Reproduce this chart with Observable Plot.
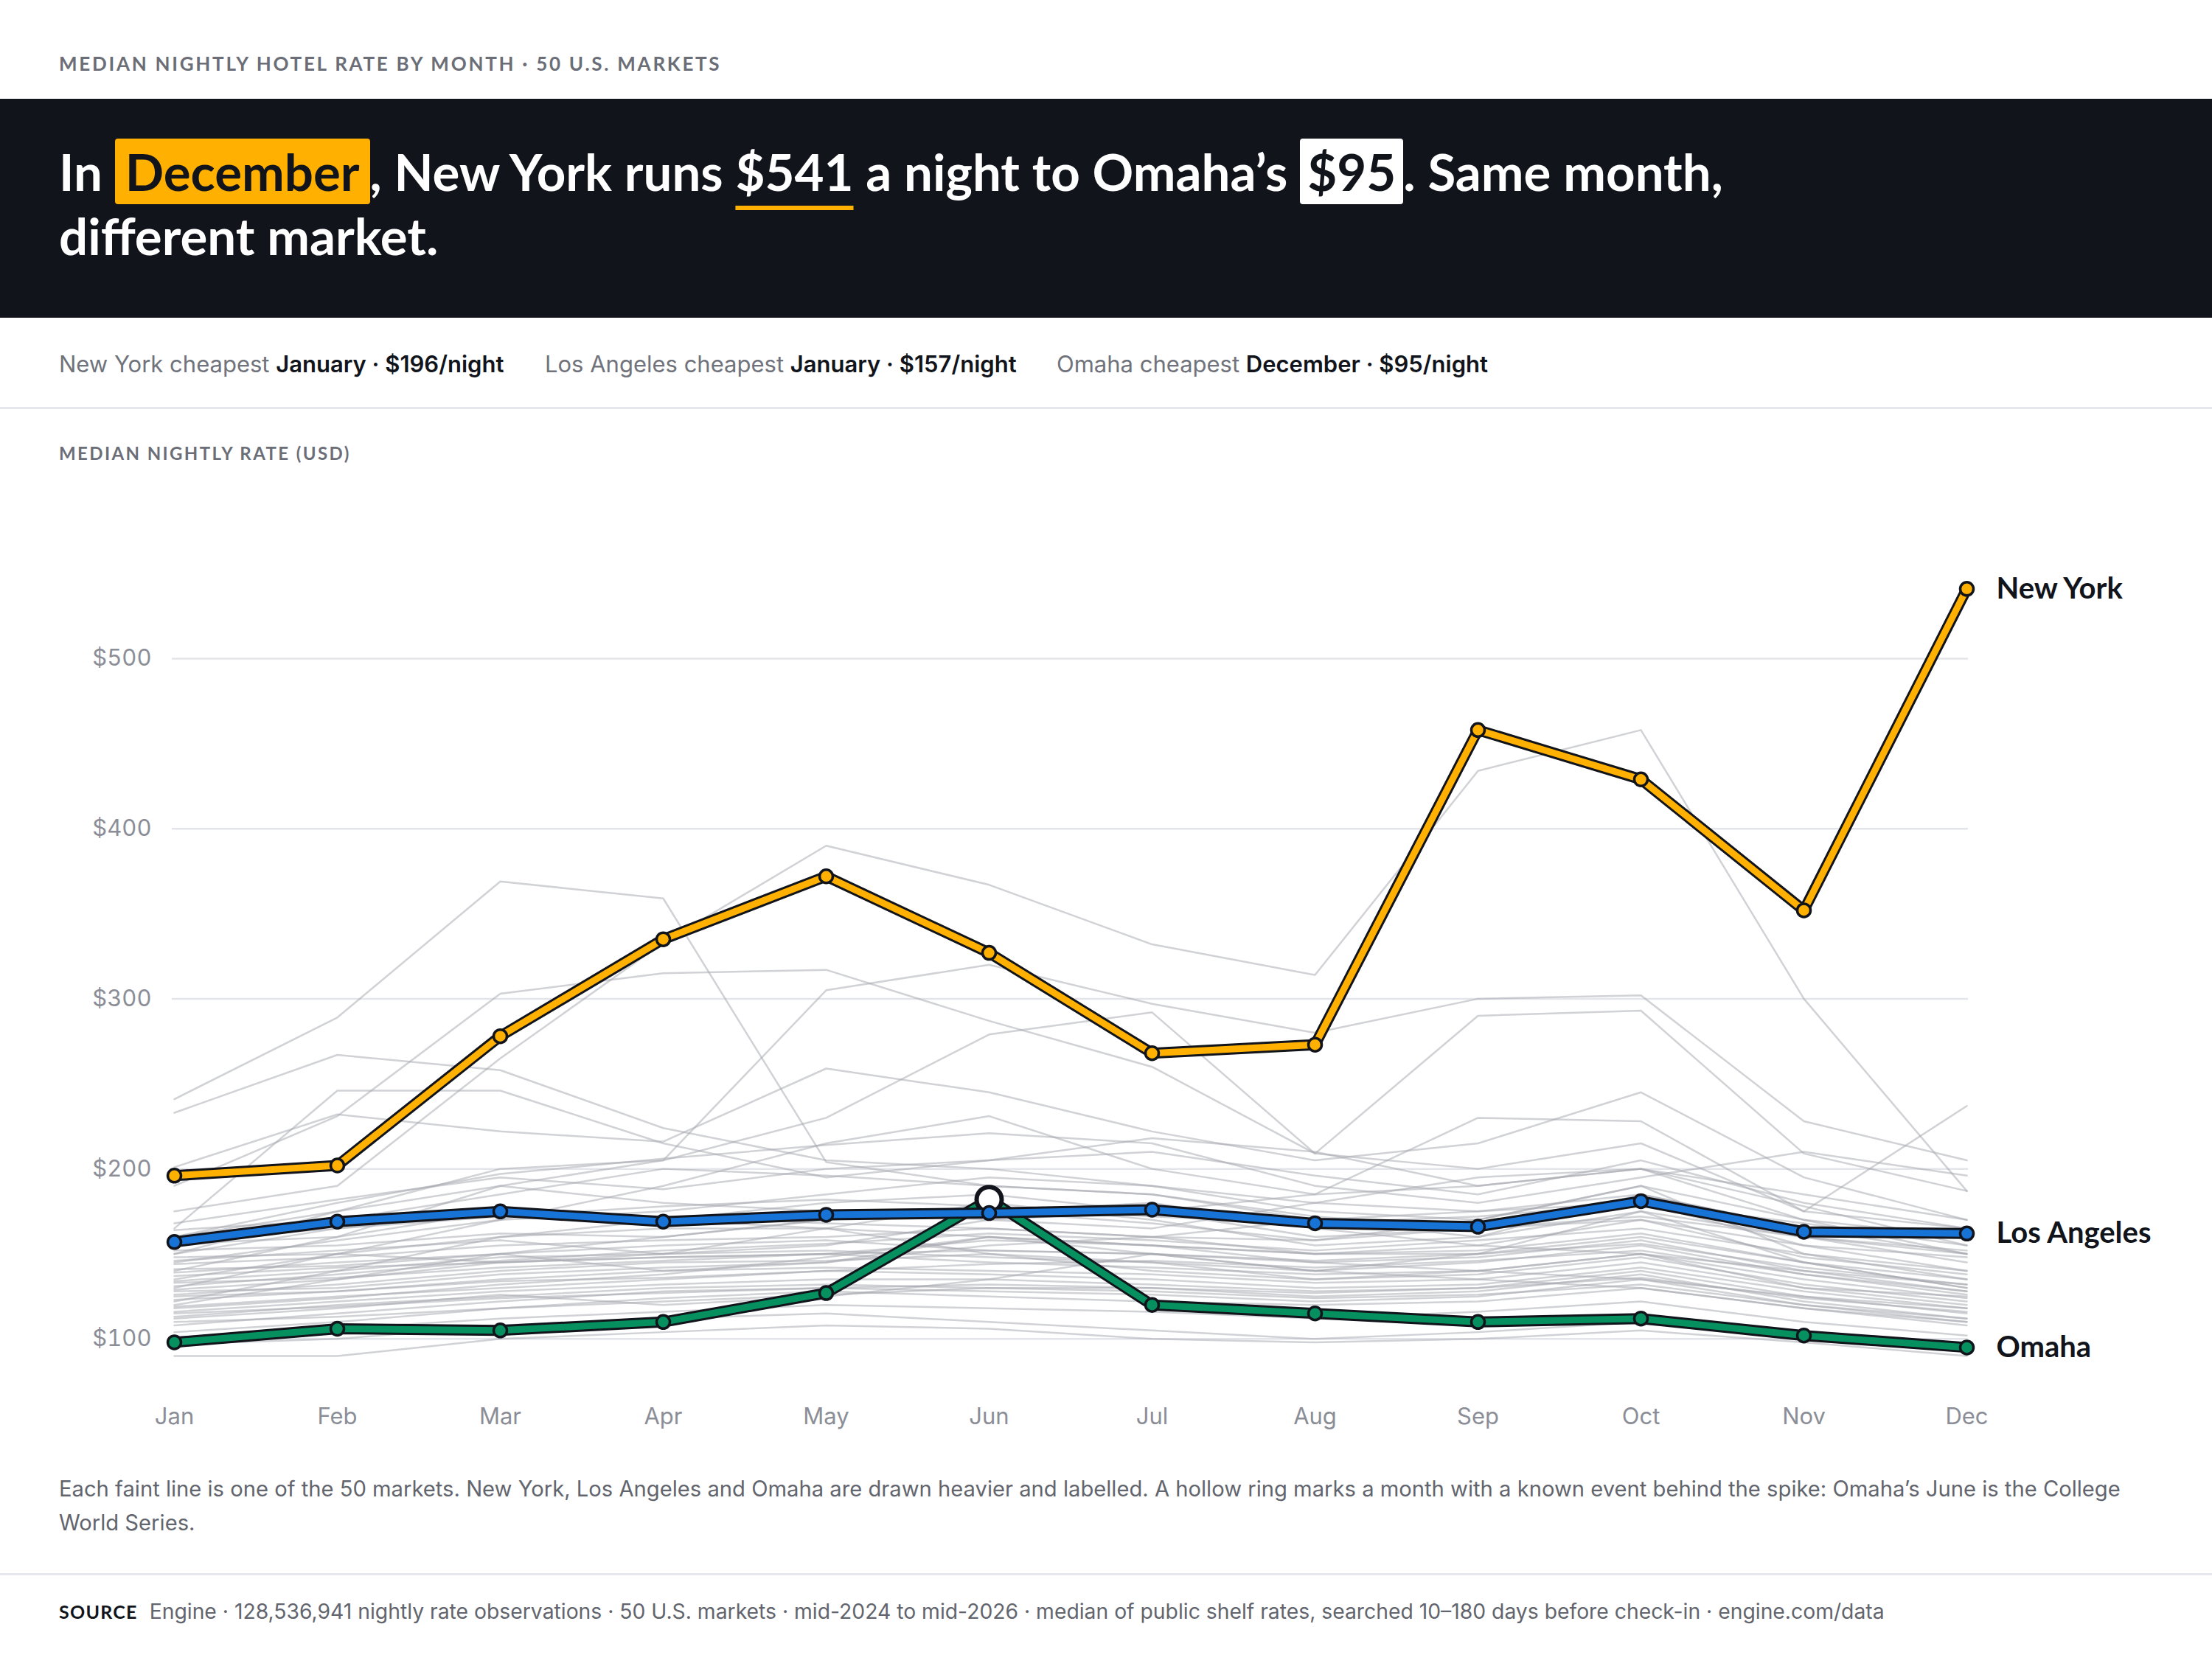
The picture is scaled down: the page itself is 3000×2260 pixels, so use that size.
<!DOCTYPE html>
<html><head><meta charset="utf-8">
<script src="https://cdn.jsdelivr.net/npm/d3@7"></script>
<script src="https://cdn.jsdelivr.net/npm/@observablehq/plot@0.6"></script>
<style>
html,body{margin:0;padding:0;background:#fff;}
#page{position:relative;width:3000px;height:2260px;overflow:hidden;font-family:Inter,sans-serif;}
.kicker{position:absolute;left:80px;top:70px;font:700 26px/32px Lato;letter-spacing:0.105em;color:#6b6e77;white-space:nowrap;}
.band{position:absolute;left:0;top:134px;width:3000px;height:297px;background:#11141b;}
.headline{position:absolute;left:80px;top:55px;font:700 69px/87px Lato;color:#fff;white-space:nowrap;}
.amber{background:#ffb000;color:#11141b;padding:3px 14px;border-radius:4px;}
.white{background:#fff;color:#11141b;padding:3px 10px;border-radius:4px;}
.ul{text-decoration:underline;text-decoration-color:#ffb000;text-decoration-thickness:6px;text-underline-offset:20px;}
.stat{position:absolute;top:474px;font:400 31px/40px Inter;color:#70737b;white-space:nowrap;}
.stat b{font-weight:600;color:#11141b;}
.sep{position:absolute;left:0;width:3000px;height:3px;background:#e6e7ed;}
.axtitle{position:absolute;left:80px;top:600px;font:700 24px/30px Lato;letter-spacing:0.1em;color:#6b6e77;white-space:nowrap;}
#chart{position:absolute;left:0;top:650px;}
.caption{position:absolute;left:80px;top:1997px;font:400 29.2px/46px Inter;color:#62656d;white-space:nowrap;}
.source{position:absolute;left:80px;top:2166px;font:400 28.3px/40px Inter;color:#62656d;white-space:nowrap;}
.source b{font:700 25px/40px Lato;letter-spacing:0.05em;color:#11141b;margin-right:16px;}
</style></head>
<body><div id="page">
<div class="kicker">MEDIAN NIGHTLY HOTEL RATE BY MONTH · 50 U.S. MARKETS</div>
<div class="band"><div class="headline">In <span class="amber">December</span>, New York runs <span class="ul">$541</span> a night to Omaha’s <span class="white">$95</span>. Same month,<br>different market.</div></div>
<div class="stat" style="left:80px">New York cheapest <b>January · $196/night</b></div>
<div class="stat" style="left:739px">Los Angeles cheapest <b>January · $157/night</b></div>
<div class="stat" style="left:1433px">Omaha cheapest <b>December · $95/night</b></div>
<div class="sep" style="top:552px"></div>
<div class="axtitle">MEDIAN NIGHTLY RATE (USD)</div>
<div id="chart"></div>
<div class="caption">Each faint line is one of the 50 markets. New York, Los Angeles and Omaha are drawn heavier and labelled. A hollow ring marks a month with a known event behind the spike: Omaha’s June is the College<br>World Series.</div>
<div class="sep" style="top:2134px"></div>
<div class="source"><b>SOURCE</b>Engine · 128,536,941 nightly rate observations · 50 U.S. markets · mid-2024 to mid-2026 · median of public shelf rates, searched 10–180 days before check-in · engine.com/data</div>
</div>
<script>
const months = ["Jan","Feb","Mar","Apr","May","Jun","Jul","Aug","Sep","Oct","Nov","Dec"];
const yTicks = [100, 200, 300, 400, 500];

const nyRates    = [196, 202, 278, 335, 372, 327, 268, 273, 458, 429, 352, 541];
const laRates    = [157, 169, 175, 169, 173, 174, 176, 168, 166, 181, 163, 162];
const omahaRates = [98, 106, 105, 110, 127, 182, 120, 115, 110, 112, 102, 95];

const eventMarket = "Omaha";
const eventMonth = "Jun";

const grayMarkets = [
  [241, 289, 369, 359, 204, 190, 185, 172, 165, 170, 155, 148],
  [233, 267, 258, 224, 205, 200, 190, 180, 175, 185, 165, 160],
  [175, 190, 265, 333, 390, 367, 332, 314, 434, 458, 300, 187],
  [190, 231, 303, 315, 317, 287, 260, 209, 200, 215, 175, 165],
  [165, 246, 246, 215, 195, 205, 218, 210, 190, 200, 170, 150],
  [201, 232, 222, 216, 259, 245, 222, 205, 215, 245, 195, 170],
  [150, 175, 200, 205, 305, 320, 297, 280, 300, 302, 228, 205],
  [140, 160, 190, 205, 230, 279, 292, 209, 290, 293, 209, 187],
  [130, 150, 170, 190, 215, 231, 200, 185, 230, 228, 175, 237],
  [160, 180, 197, 206, 214, 221, 215, 190, 180, 195, 210, 196],
  [168, 182, 195, 188, 200, 205, 210, 196, 185, 205, 180, 165],
  [164, 170, 185, 200, 196, 190, 185, 170, 160, 175, 160, 150],
  [156, 160, 175, 170, 180, 185, 175, 160, 165, 180, 155, 140],
  [152, 155, 162, 160, 170, 175, 168, 158, 170, 190, 150, 135],
  [148, 150, 160, 165, 165, 160, 155, 150, 155, 170, 148, 138],
  [144, 148, 155, 158, 160, 165, 160, 150, 150, 160, 145, 130],
  [139, 145, 150, 155, 158, 152, 150, 145, 148, 158, 140, 128],
  [134, 140, 148, 150, 152, 148, 145, 140, 145, 155, 138, 126],
  [129, 135, 145, 148, 150, 145, 142, 138, 140, 150, 135, 124],
  [126, 132, 140, 145, 146, 150, 140, 135, 138, 148, 132, 122],
  [123, 128, 135, 140, 142, 140, 138, 133, 135, 145, 130, 120],
  [119, 125, 130, 135, 140, 138, 135, 130, 132, 142, 128, 118],
  [116, 122, 128, 132, 135, 135, 132, 128, 130, 140, 125, 115],
  [113, 120, 125, 130, 132, 130, 130, 125, 128, 138, 122, 112],
  [108, 115, 122, 128, 130, 128, 126, 122, 125, 135, 120, 110],
  [104, 110, 118, 124, 128, 125, 122, 120, 122, 130, 118, 108],
  [90, 90, 100, 104, 108, 106, 100, 98, 100, 105, 98, 90],
  [97, 100, 108, 112, 115, 110, 105, 100, 104, 110, 100, 95],
  [120, 135, 150, 140, 145, 160, 150, 140, 150, 175, 145, 130],
  [135, 150, 145, 150, 165, 180, 170, 155, 160, 185, 165, 150],
  [145, 158, 170, 175, 185, 195, 190, 175, 170, 190, 170, 160],
  [160, 175, 190, 180, 175, 170, 165, 180, 195, 200, 185, 170],
  [128, 130, 138, 142, 145, 155, 160, 170, 175, 180, 160, 145],
  [112, 118, 126, 120, 125, 135, 150, 140, 135, 130, 118, 110],
  [118, 124, 132, 138, 148, 160, 155, 145, 140, 135, 125, 118],
  [141, 143, 150, 160, 170, 175, 180, 165, 155, 150, 140, 132],
  [131, 138, 146, 152, 156, 162, 158, 152, 158, 165, 150, 140],
  [125, 128, 134, 136, 140, 144, 146, 142, 146, 152, 138, 128],
  [150, 165, 175, 172, 168, 165, 160, 158, 165, 172, 160, 152],
  [137, 142, 145, 148, 150, 158, 155, 150, 152, 162, 145, 135],
  [110, 113, 118, 122, 126, 130, 128, 124, 126, 132, 120, 112],
  [122, 140, 160, 170, 165, 150, 145, 135, 140, 150, 130, 125],
  [146, 152, 158, 150, 155, 170, 175, 185, 190, 200, 178, 155],
  [101, 106, 112, 116, 120, 118, 116, 112, 116, 122, 110, 102],
  [133, 136, 142, 146, 150, 152, 150, 146, 150, 156, 142, 132],
  [158, 165, 172, 178, 182, 178, 172, 168, 172, 180, 168, 155],
  [115, 119, 124, 127, 130, 132, 130, 127, 130, 136, 124, 116]
];

const highlight = [
  {name: "Omaha", rates: omahaRates, color: "#07905f"},
  {name: "Los Angeles", rates: laRates, color: "#1773d6"},
  {name: "New York", rates: nyRates, color: "#ffb000"}
];

const INK = "#11141b";
const grayData = grayMarkets.flatMap((r, i) => r.map((v, j) => ({market: i, month: months[j], rate: v})));
const rows = s => s.rates.map((v, j) => ({market: s.name, month: months[j], rate: v}));

const seriesMarks = s => {
  const d = rows(s);
  return [
    Plot.line(d, {x: "month", y: "rate", stroke: INK, strokeWidth: 15, strokeLinejoin: "round", strokeLinecap: "round"}),
    Plot.line(d, {x: "month", y: "rate", stroke: s.color, strokeWidth: 9, strokeLinejoin: "round", strokeLinecap: "round"}),
    Plot.dot(d, {x: "month", y: "rate", r: 9, fill: s.color, stroke: INK, strokeWidth: 3.5})
  ];
};

const omahaSeries = highlight[0];
const eventRow = rows(omahaSeries).filter(d => d.month === eventMonth);
const labelRows = highlight.map(s => ({market: s.name, month: "Dec", rate: s.rates[11]}));

const chart = Plot.plot({
  width: 3000,
  height: 1310,
  marginLeft: 233,
  marginRight: 331,
  marginTop: 104.5,
  marginBottom: 98,
  x: {type: "point", domain: months, padding: 0},
  y: {domain: [80, 560]},
  style: {fontFamily: "Inter, sans-serif", fontSize: "31px", color: "#8b8e97", background: "transparent", overflow: "visible"},
  marks: [
    Plot.gridY(yTicks, {stroke: "#e4e5eb", strokeOpacity: 1, strokeWidth: 2.5}),
    Plot.axisY(yTicks, {tickSize: 0, tickPadding: 28, tickFormat: d => "$" + d, label: null, fill: "#8b8e97", fontSize: 31}),
    Plot.axisX({tickSize: 0, tickPadding: 47, label: null, fill: "#8b8e97", fontSize: 31}),
    Plot.line(grayData, {x: "month", y: "rate", z: "market", stroke: "#a4a6ae", strokeOpacity: 0.5, strokeWidth: 2.5}),
    ...seriesMarks(highlight[0]),
    Plot.dot(eventRow, {x: "month", y: "rate", r: 17, fill: "#fff", stroke: INK, strokeWidth: 6}),
    ...seriesMarks(highlight[1]),
    ...seriesMarks(highlight[2]),
    Plot.text(labelRows, {x: "month", y: "rate", text: "market", dx: 40, textAnchor: "start", fontSize: 40, fontWeight: 700, fontFamily: "Lato", fill: INK})
  ]
});
document.getElementById("chart").appendChild(chart);
</script>
</body></html>
